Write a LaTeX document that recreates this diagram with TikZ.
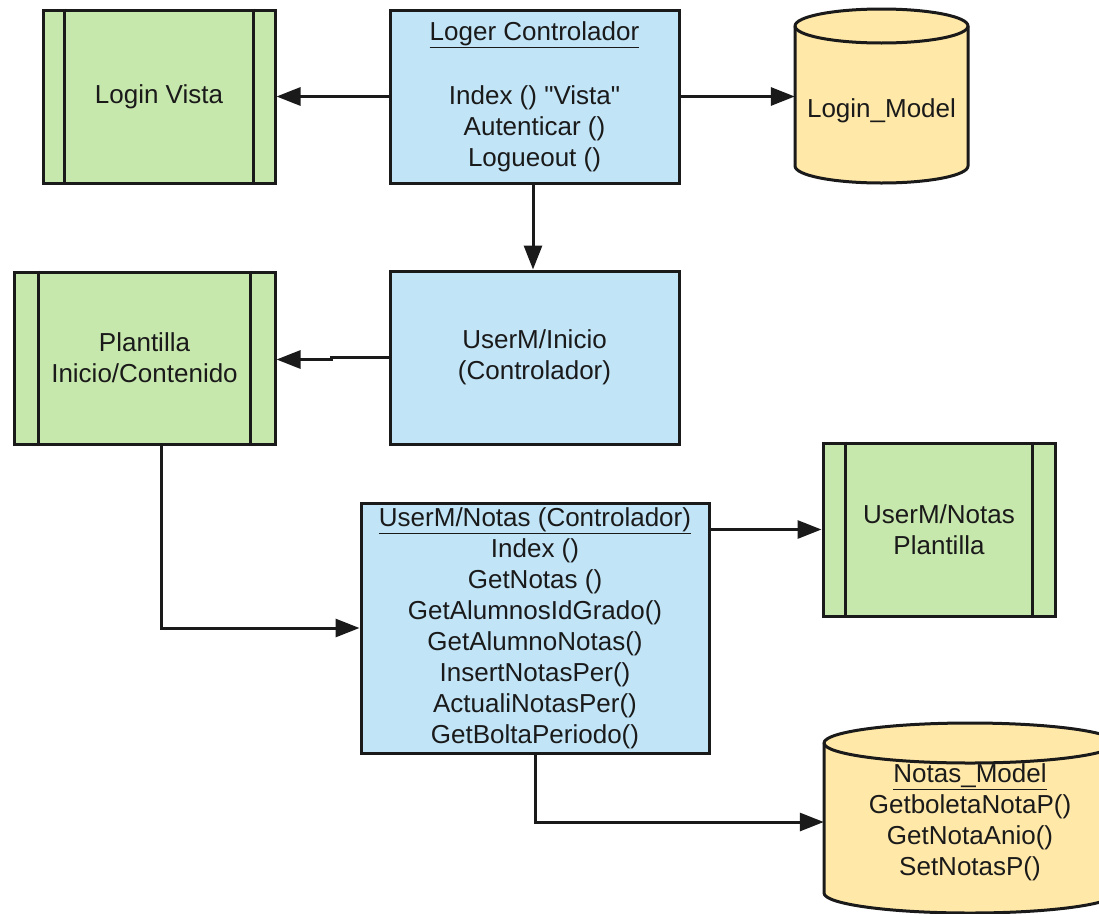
\documentclass[tikz,border=0pt]{standalone}
\usepackage{fontspec}
\setmainfont{Liberation Sans}[Ligatures=TeXOff]
\usetikzlibrary{arrows.meta}
\definecolor{vgreen}{HTML}{C7E8AC}
\definecolor{cblue}{HTML}{C1E4F7}
\definecolor{myellow}{HTML}{FFE8A8}
\definecolor{ink}{HTML}{1A1A1A}
\begin{document}
\begin{tikzpicture}[x=1pt,y=-1pt,
  box/.style={draw=ink, line width=3pt, rectangle, inner sep=0pt, align=center,
    font=\fontsize{26}{31}\selectfont, text=ink},
  viewbox/.style={box, fill=vgreen},
  ctrlbox/.style={box, fill=cblue},
  txt/.style={rectangle, inner sep=0pt, align=center, font=\fontsize{26}{31}\selectfont, text=ink},
  sideline/.style={draw=ink, line width=2.8pt},
  cyl/.style={fill=myellow, draw=ink, line width=3pt, line join=round},
  conn/.style={draw=ink, line width=3pt, -{Triangle[length=24pt,width=18pt]}}
]
\useasboundingbox (0,0) rectangle (1099,913);

% ---- boxes ----
\node[viewbox, minimum width=232, minimum height=173] (lv) at (159,96.5) {Login Vista};
\draw[sideline] ([xshift=23pt]lv.north west) -- ([xshift=23pt]lv.south west);
\draw[sideline] ([xshift=-23pt]lv.north east) -- ([xshift=-23pt]lv.south east);

\node[ctrlbox, minimum width=289, minimum height=173] (lc) at (534.5,96.5)
  {\underline{Loger Controlador}\\[33pt]Index () "Vista"\\Autenticar ()\\Logueout ()};

\node[ctrlbox, minimum width=289, minimum height=173] (ui) at (534.5,357.5)
  {UserM/Inicio\\(Controlador)};

\node[viewbox, minimum width=261, minimum height=172] (pi) at (144.5,358)
  {Plantilla\\Inicio/Contenido};
\draw[sideline] ([xshift=26pt]pi.north west) -- ([xshift=26pt]pi.south west);
\draw[sideline] ([xshift=-26pt]pi.north east) -- ([xshift=-26pt]pi.south east);

\node[ctrlbox, minimum width=348, minimum height=250] (nc) at (535,628)
  {\underline{UserM/Notas (Controlador)}\\Index ()\\GetNotas ()\\GetAlumnosIdGrado()\\GetAlumnoNotas()\\InsertNotasPer()\\ActualiNotasPer()\\GetBoltaPeriodo()};

\node[viewbox, minimum width=232, minimum height=173] (np) at (939,529.5)
  {UserM/Notas\\Plantilla};
\draw[sideline] ([xshift=24pt]np.north west) -- ([xshift=24pt]np.south west);
\draw[sideline] ([xshift=-24pt]np.north east) -- ([xshift=-24pt]np.south east);

% ---- cylinders ----
\path[cyl] (795,26) -- (795,166)
  arc[start angle=180, end angle=0, x radius=86.5, y radius=17] -- (968,26)
  arc[start angle=0, end angle=-180, x radius=86.5, y radius=17] -- cycle;
\draw[cyl, fill=none] (795,26) arc[start angle=180, end angle=0, x radius=86.5, y radius=17];
\node[txt, minimum width=173] (lm) at (881.5,111) {Login\_Model};

\path[cyl] (824,743) -- (824,893)
  arc[start angle=180, end angle=0, x radius=146, y radius=20] -- (1116,743)
  arc[start angle=0, end angle=-180, x radius=146, y radius=20] -- cycle;
\draw[cyl, fill=none] (824,743) arc[start angle=180, end angle=0, x radius=146, y radius=20];
\node[txt, minimum width=292] (nm) at (970,822)
  {\underline{Notas\_Model}\\GetboletaNotaP()\\GetNotaAnio()\\SetNotasP()};

% ---- connectors ----
\draw[conn] (lc.west) -- (lv.east);
\draw[conn] (lc.east) -- (lc.east -| lm.west);
\draw[conn] ([xshift=-1.5pt]lc.south) -- ([xshift=-1.5pt]ui.north);
\draw[conn] (ui.west) -- ++(-57,0) coordinate (jogA) -- ++(0,2) coordinate (jogB) -- (jogB -| pi.east);
\draw[conn] ([xshift=16.5pt]pi.south) |- (nc.west);
\draw[conn] (nc.east |- np.west) -- (np.west);
\draw[conn] (nc.south) |- (nm.west);
\end{tikzpicture}
\end{document}
